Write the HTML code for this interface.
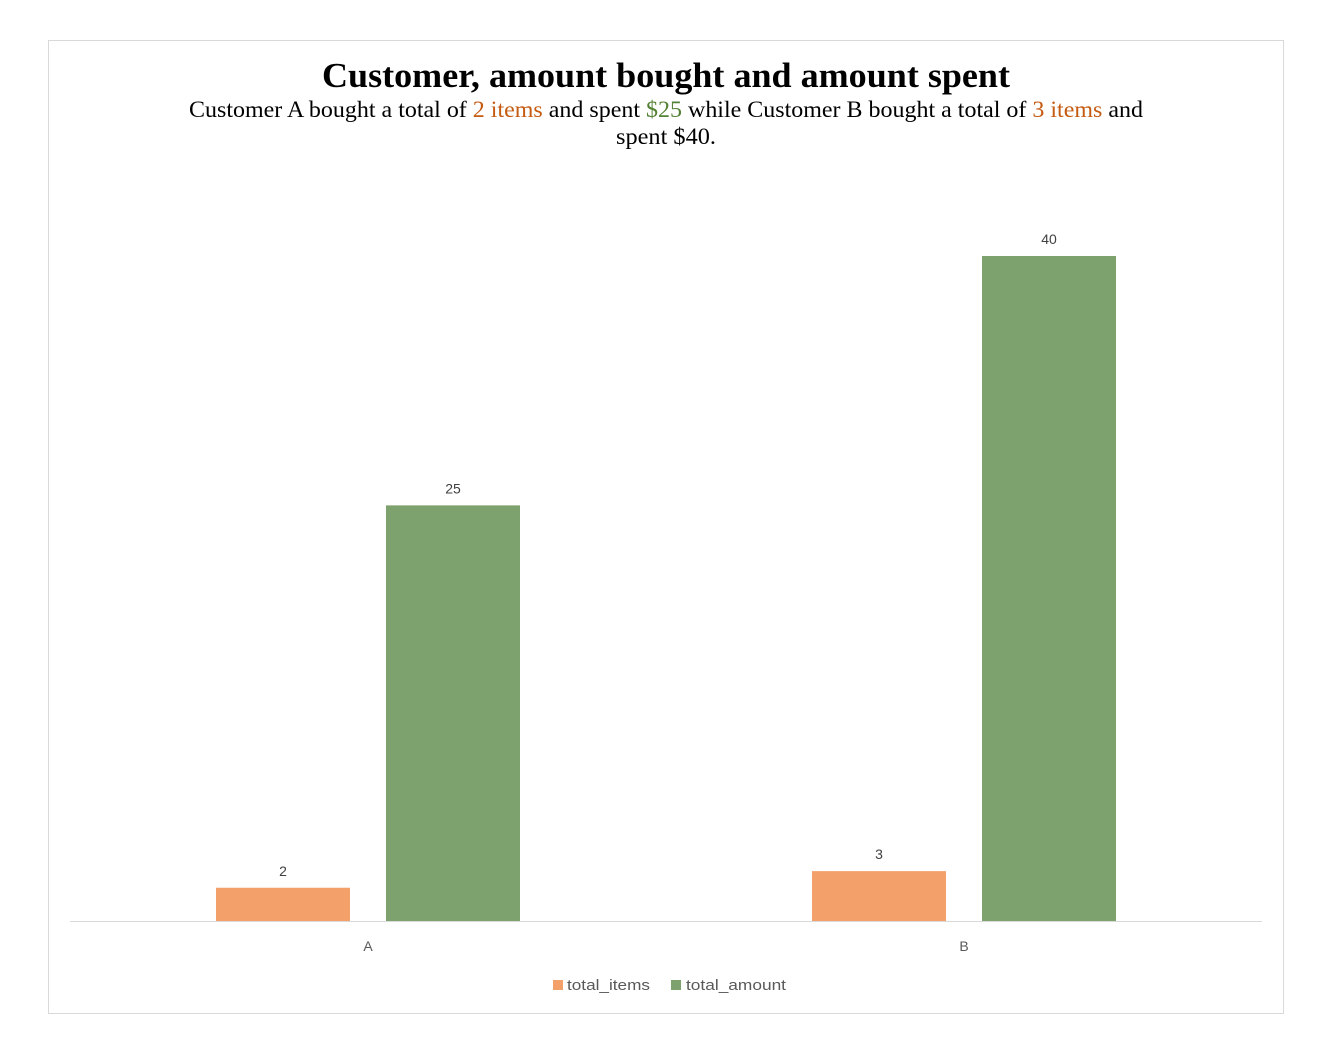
<!DOCTYPE html>
<html><head><meta charset="utf-8">
<style>
body{margin:0;background:#fff;width:1338px;height:1047px;overflow:hidden;}
svg{display:block;}
</style></head>
<body>
<svg width="1338" height="1047" id="chart">
<rect x="48.5" y="40.5" width="1235" height="973" fill="#fff" stroke="#d9d9d9"/>
<text x="322" y="87" textLength="688" lengthAdjust="spacingAndGlyphs" font-family="Liberation Serif, serif" font-weight="bold" font-size="35" fill="#000">Customer, amount bought and amount spent</text>
<text x="189" y="117" textLength="954" lengthAdjust="spacingAndGlyphs" font-family="Liberation Serif, serif" font-size="23.5" fill="#000">Customer A bought a total of <tspan fill="#C55A11">2 items</tspan> and spent <tspan fill="#548235">$25</tspan> while Customer B bought a total of <tspan fill="#C55A11">3 items</tspan> and</text>
<text x="616" y="144" textLength="100" lengthAdjust="spacingAndGlyphs" font-family="Liberation Serif, serif" font-size="23.5" fill="#000">spent $40.</text>
<g id="bars"></g>
<line x1="70" y1="921.5" x2="1262" y2="921.5" stroke="#d9d9d9"/>
<g id="labels" font-family="Liberation Sans, sans-serif" font-size="14" fill="#595959"></g>
<rect x="553" y="980" width="10" height="10" fill="#F4A06A"/>
<text x="567" y="990" textLength="83" lengthAdjust="spacingAndGlyphs" font-family="Liberation Sans, sans-serif" font-size="15" fill="#595959">total_items</text>
<rect x="671" y="980" width="10" height="10" fill="#7EA26E"/>
<text x="686" y="990" textLength="100" lengthAdjust="spacingAndGlyphs" font-family="Liberation Sans, sans-serif" font-size="15" fill="#595959">total_amount</text>
</svg>
<script>
const categories=["A","B"];
const totalItems=[2,3];
const totalAmount=[25,40];
const NS="http://www.w3.org/2000/svg";
const y0=921, pxPerUnit=16.625;
const yScale=v=>y0-v*pxPerUnit;
const catX=i=>368+i*596;
const barW=134;
const bars=document.getElementById('bars');
const labels=document.getElementById('labels');
function bar(x,v,color,name){
  const r=document.createElementNS(NS,'rect');
  r.setAttribute('x',x);r.setAttribute('y',yScale(v));
  r.setAttribute('width',barW);r.setAttribute('height',y0-yScale(v));
  r.setAttribute('fill',color);
  
  
  bars.appendChild(r);
  const t=document.createElementNS(NS,'text');
  t.setAttribute('x',x+barW/2);t.setAttribute('y',yScale(v)-12);
  t.setAttribute('text-anchor','middle');t.textContent=v;
  t.setAttribute('fill','#404040');
  
  
  labels.appendChild(t);
}
categories.forEach((c,i)=>{
  const cx=catX(i);
  bar(cx-152,totalItems[i],'#F4A06A','bar-items-'+c);
  bar(cx+18,totalAmount[i],'#7EA26E','bar-amount-'+c);
  const t=document.createElementNS(NS,'text');
  t.setAttribute('x',cx);t.setAttribute('y',951);
  t.setAttribute('text-anchor','middle');t.textContent=c;
  
  
  labels.appendChild(t);
});
</script>
</body></html>
